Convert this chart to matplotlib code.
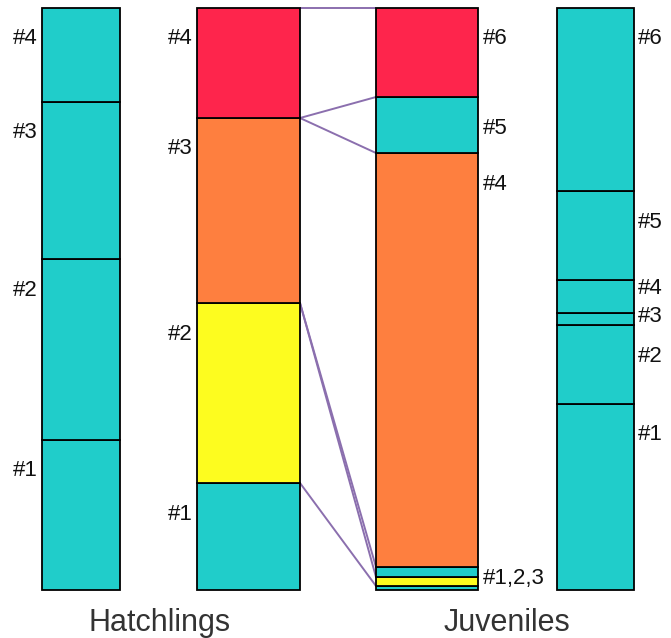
import numpy as np
import matplotlib
matplotlib.use("Agg")
import matplotlib.pyplot as plt

# segment heights, bottom to top (pixel-ish units, each bar sums to 582)
hatch_ref = [150, 181, 157, 94]          # uniform reference bar
hatch_col = [107, 180, 185, 110]         # coloured hatchling bar
juv_col = [4, 9, 10, 414, 56, 89]        # coloured juvenile bar
juv_ref = [186, 79, 12, 33, 89, 183]     # uniform reference bar

TEAL = '#20cdca'
RED = '#fe254c'
ORANGE = '#fe7f3f'
YELLOW = '#fdfc1f'
LINE = '#8b6fae'

hatch_ref_colors = [TEAL] * 4
hatch_col_colors = [TEAL, YELLOW, ORANGE, RED]
juv_col_colors = [TEAL, YELLOW, TEAL, ORANGE, TEAL, RED]
juv_ref_colors = [TEAL] * 6

hatch_labels = ['#1', '#2', '#3', '#4']
juv_col_labels = ['#1,2,3', '#4', '#5', '#6']
juv_ref_labels = ['#1', '#2', '#3', '#4', '#5', '#6']

# links between boundaries (index into cumulative boundaries of bar2 -> bar3)
links = [(4, 6), (3, 5), (3, 4), (2, 3), (2, 2), (1, 1)]

fig = plt.figure(figsize=(6.71, 6.38), dpi=100)
ax = fig.add_axes([0, 0, 1, 1])
ax.set_xlim(0, 671)
ax.set_ylim(-48, 590)
ax.axis('off')

bars = [
    (81, 78, hatch_ref, hatch_ref_colors),
    (248.5, 103, hatch_col, hatch_col_colors),
    (427, 102, juv_col, juv_col_colors),
    (595.5, 77, juv_ref, juv_ref_colors),
]
bounds = []
for x, w, h, c in bars:
    bottoms = np.concatenate([[0], np.cumsum(h)[:-1]])
    ax.bar(x, h, width=w, bottom=bottoms, color=c, edgecolor='black',
           linewidth=1.3, zorder=2)
    bounds.append(np.concatenate([[0], np.cumsum(h)]))

# connector lines between the two coloured bars
x2r = bars[1][0] + bars[1][1] / 2
x3l = bars[2][0] - bars[2][1] / 2
for i, j in links:
    ax.plot([x2r, x3l], [bounds[1][i], bounds[2][j]], color=LINE, lw=1.4,
            zorder=1, solid_capstyle='butt')

lab_font = dict(family=['Liberation Sans Narrow', 'Liberation Sans', 'DejaVu Sans'],
                fontsize=16, color='#111111', va='center')
off = 31

# labels left of hatchling bars
for k, lab in enumerate(hatch_labels):
    ax.text(bars[0][0] - bars[0][1] / 2 - 4, bounds[0][k + 1] - off, lab,
            ha='right', **lab_font)
    ax.text(bars[1][0] - bars[1][1] / 2 - 4, bounds[1][k + 1] - off, lab,
            ha='right', **lab_font)

# labels right of juvenile coloured bar
b3 = bounds[2]
x3r = bars[2][0] + bars[2][1] / 2 + 5
ax.text(x3r, b3[3] / 2, juv_col_labels[0], ha='left', **lab_font)
for k, lab in enumerate(juv_col_labels[1:]):
    ax.text(x3r, b3[k + 4] - off, lab, ha='left', **lab_font)

# labels right of juvenile reference bar
x4r = bars[3][0] + bars[3][1] / 2 + 4
b4 = bounds[3]
offs4 = [off, off, 4, 8, off, off]
for k, lab in enumerate(juv_ref_labels):
    ax.text(x4r, b4[k + 1] - offs4[k], lab, ha='left', **lab_font)

title_font = dict(family=['Liberation Sans', 'DejaVu Sans'], fontsize=22,
                  color='#333333', va='baseline', ha='center')
ax.text(160, -41, 'Hatchlings', **title_font)
ax.text(507, -41, 'Juveniles', **title_font)

fig.savefig('out.png', dpi=100)
